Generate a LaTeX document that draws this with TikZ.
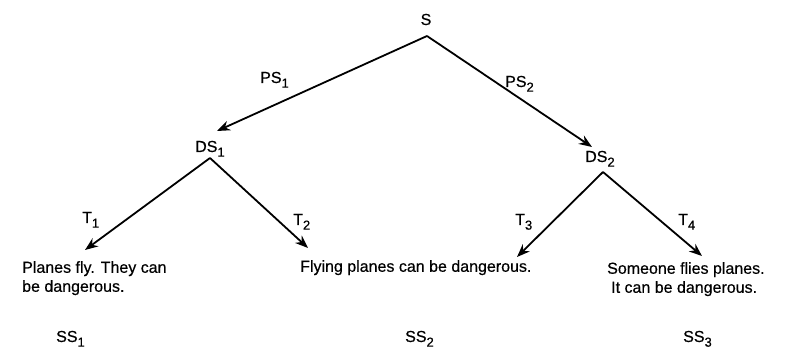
\documentclass[tikz,border=0pt]{standalone}
\usepackage{fontspec}
\setmainfont{Liberation Sans}[FakeBold=0.5]
\usetikzlibrary{arrows.meta}
\newcommand{\sbx}[1]{\raisebox{-0.55ex}{\fontsize{13}{13}\selectfont #1}}
\begin{document}
\begin{tikzpicture}[x=1pt,y=-1pt,
  lbl/.style={inner sep=0pt, anchor=base west, font=\fontsize{16}{18}\selectfont},
  leaf/.style={inner sep=0pt, anchor=north west, align=left, font=\fontsize{16}{19}\selectfont},
  conn/.style={line width=1.8pt, -{Stealth[length=13pt,width=10pt]}}]
\useasboundingbox (0,0) rectangle (803,352);
% labels
\node[lbl, anchor=base] (S) at (426,25) {S};
\node[lbl] (DS1) at (195,152) {DS\sbx{1}};
\node[lbl] (DS2) at (585,162) {DS\sbx{2}};
\node[lbl] (PS1) at (260,83) {PS\sbx{1}};
\node[lbl] (PS2) at (505,87) {PS\sbx{2}};
\node[lbl] (T1) at (82,223) {T\sbx{1}};
\node[lbl] (T2) at (293,225) {T\sbx{2}};
\node[lbl] (T3) at (515,225) {T\sbx{3}};
\node[lbl] (T4) at (678,225) {T\sbx{4}};
\node[leaf] (L1) at (22,261) {Planes fly. They can\\be dangerous.};
\node[leaf] (L2) at (300,260) {Flying planes can be dangerous.};
\node[leaf] (L3) at (607,262) {Someone flies planes.\\\hspace*{4pt}It can be dangerous.};
\node[lbl] (SS1) at (56,342) {SS\sbx{1}};
\node[lbl] (SS2) at (405,342) {SS\sbx{2}};
\node[lbl] (SS3) at (683,342) {SS\sbx{3}};
% connector ends
\coordinate (Sa) at (427,36);
\coordinate (D1t) at (217,131);
\coordinate (D2t) at (592,147);
\coordinate (D1a) at (210,158);
\coordinate (D2a) at (603,172);
\coordinate (L1t) at (85,250);
\coordinate (L2t) at (308,248);
\coordinate (L3t) at (517,257);
\coordinate (L4t) at (702,256);
\draw[conn] (Sa) -- (D1t);
\draw[conn] (Sa) -- (D2t);
\draw[conn] (D1a) -- (L1t);
\draw[conn] (D1a) -- (L2t);
\draw[conn] (D2a) -- (L3t);
\draw[conn] (D2a) -- (L4t);
\end{tikzpicture}
\end{document}
